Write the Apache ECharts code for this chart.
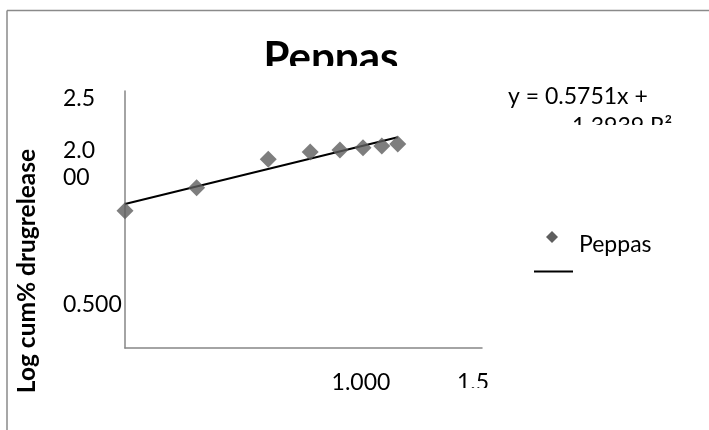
<!DOCTYPE html>
<html>
<head>
<meta charset="utf-8">
<style>html,body{margin:0;padding:0;background:#fff;}#c{width:709px;height:430px;}</style>
<script src="https://cdn.jsdelivr.net/npm/echarts@6/dist/echarts.min.js"></script>
</head>
<body>
<div id="c"></div>
<script>
// log time (x) vs log cumulative % drug release (y)
const xValues = [0, 0.301, 0.602, 0.778, 0.903, 1.0, 1.079, 1.146];
const yValues = [1.336, 1.559, 1.836, 1.907, 1.926, 1.948, 1.965, 1.984];
// trendline end points
const trendX = [0, 1.146];
const trendY = [1.401, 2.05];
const xTickLabels = {'1': '1.000', '1.5': '1.5'};
const yTickLabels = {'2.5': ['2.5'], '2': ['2.0', '00'], '0.5': ['0.500']};
const titleText = 'Peppas';
const seriesName = 'Peppas';
const eqLine1 = 'y = 0.5751x +';
const eqLine2 = '1.3939 R²';
const yTitle = 'Log cum% drugrelease';

const chart = echarts.init(document.getElementById('c'), null, {renderer: 'canvas'});
const FONT = 'Lato';
const pts = xValues.map((x, i) => [x, yValues[i]]);
const trend = trendX.map((x, i) => [x, trendY[i]]);

chart.setOption({
  backgroundColor: '#fff',
  animation: false,
  grid: {left: 125, top: 91, right: 227, bottom: 82, containLabel: false},
  xAxis: {
    type: 'value', min: 0, max: 1.5, interval: 0.5,
    axisLine: {show: true, lineStyle: {color: '#868686', width: 1.5}},
    axisTick: {show: false}, splitLine: {show: false},
    axisLabel: {
      margin: 23, verticalAlign: 'top',
      color: '#000', fontFamily: FONT, fontSize: 23,
      formatter: v => {
        const k = String(v);
        if (!xTickLabels[k]) return '';
        return k === '1.5' ? '{s|' + xTickLabels[k] + '}' : '{n|' + xTickLabels[k] + '}';
      },
      rich: {
        n: {fontFamily: FONT, fontSize: 23, color: '#000', lineHeight: 23, padding: [0, 4, 0, 0]},
        s: {fontFamily: FONT, fontSize: 23, color: '#000', lineHeight: 23, padding: [0, 18, 0, 0]}
      }
    }
  },
  yAxis: {
    type: 'value', min: 0, max: 2.5, interval: 0.5,
    axisLine: {show: true, lineStyle: {color: '#868686', width: 1.5}},
    axisTick: {show: false}, splitLine: {show: false},
    axisLabel: {
      margin: 62, align: 'left', verticalAlign: 'top',
      color: '#000', fontFamily: FONT, fontSize: 23,
      formatter: v => {
        const k = String(v);
        const l = yTickLabels[k];
        if (!l) return '';
        if (l.length === 1) return '{a|' + l[0] + '}';
        return '{a|' + l[0] + '}\n{b|' + l[1] + '}';
      },
      rich: {
        a: {fontFamily: FONT, fontSize: 23, color: '#000', lineHeight: 16},
        b: {fontFamily: FONT, fontSize: 23, color: '#000', lineHeight: 38}
      }
    }
  },
  series: [
    {
      name: 'Linear (' + seriesName + ')', type: 'line', data: trend,
      symbol: 'none', lineStyle: {color: '#000', width: 2}, z: 2
    },
    {
      name: seriesName, type: 'scatter', data: pts,
      symbol: 'diamond', symbolSize: 17,
      itemStyle: {color: '#5e5e5e'}, z: 3
    }
  ],
  graphic: [
    // outer frame
    {type: 'line', shape: {x1: 7, y1: 10.5, x2: 709, y2: 10.5}, style: {stroke: '#8a8a8a', lineWidth: 1.5}, z: 1},
    {type: 'line', shape: {x1: 7, y1: 10.5, x2: 7, y2: 430}, style: {stroke: '#8a8a8a', lineWidth: 1.5}, z: 1},
    // title (clipped at its bottom)
    {type: 'text', x: 331, y: 58, z: 50,
     style: {text: titleText, fontFamily: FONT, fontWeight: 'bold', fontSize: 42, fill: '#000', align: 'center', verticalAlign: 'middle'}},
    {type: 'rect', shape: {x: 240, y: 66, width: 190, height: 20}, style: {fill: '#fff'}, z: 60},
    // equation
    {type: 'text', x: 508, y: 97, z: 50,
     style: {text: eqLine1, fontFamily: FONT, fontSize: 23, fill: '#000', align: 'left', verticalAlign: 'middle'}},
    {type: 'text', x: 572, y: 127, z: 50,
     style: {text: eqLine2, fontFamily: FONT, fontSize: 23, fill: '#000', align: 'left', verticalAlign: 'middle'}},
    {type: 'rect', shape: {x: 540, y: 125, width: 169, height: 22}, style: {fill: '#fff'}, z: 60},
    // legend
    {type: 'polygon', z: 50, shape: {points: [[552, 231], [558, 237], [552, 243], [546, 237]]}, style: {fill: '#5e5e5e'}},
    {type: 'text', x: 579, y: 245, z: 50,
     style: {text: seriesName, fontFamily: FONT, fontSize: 23, fill: '#000', align: 'left', verticalAlign: 'middle'}},
    {type: 'line', z: 50, shape: {x1: 534, y1: 271.5, x2: 573, y2: 271.5}, style: {stroke: '#000', lineWidth: 2}},
    // y axis title
    {type: 'text', x: 27, y: 271, rotation: Math.PI / 2, z: 50,
     style: {text: yTitle, fontFamily: FONT, fontWeight: 'bold', fontSize: 24.5, fill: '#000', align: 'center', verticalAlign: 'middle'}},
    // clip of the last x label
    {type: 'rect', shape: {x: 445, y: 388, width: 60, height: 15}, style: {fill: '#fff'}, z: 60}
  ]
});
</script>
</body>
</html>
